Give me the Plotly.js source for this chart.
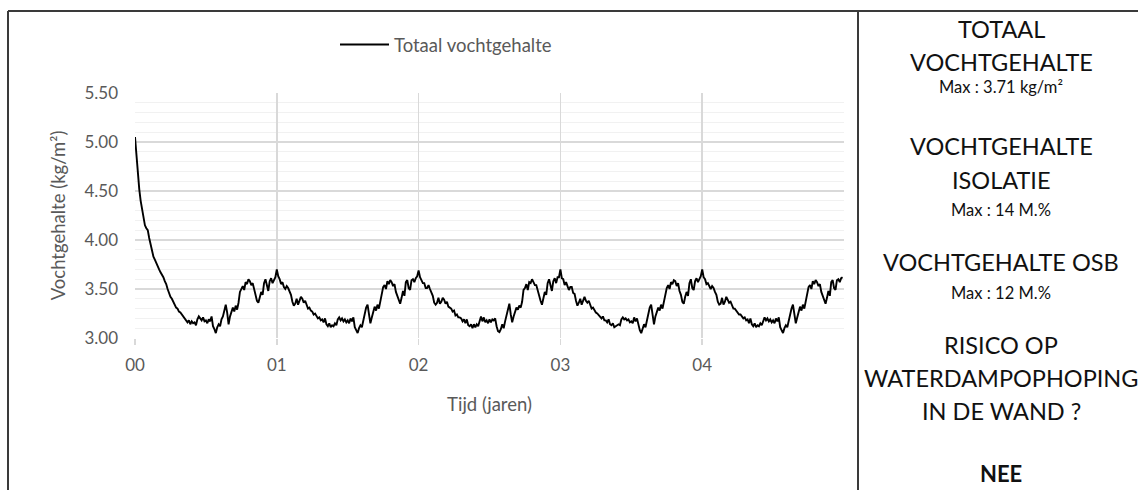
<!DOCTYPE html>
<html>
<head>
<meta charset="utf-8">
<script src="https://cdn.plot.ly/plotly-3.0.1.min.js"></script>
<style>html,body{margin:0;padding:0;background:#fff;}#chart{width:1138px;height:490px;}</style>
</head>
<body>
<div id="chart"></div>
<script>
// ---- DATA ----
const seriesName = 'Totaal vochtgehalte';
const timeStepYears = 0.01;   // sampling interval of the series (years)
const moisture = [ // kg/m², one value per 0.01 year
5.05,4.85,4.66,4.52,4.40,4.30,4.24,4.15,4.12,4.10,
4.02,3.95,3.88,3.83,3.80,3.76,3.72,3.70,3.67,3.65,
3.62,3.58,3.55,3.50,3.45,3.42,3.40,3.37,3.33,3.31,
3.30,3.27,3.26,3.24,3.22,3.20,3.18,3.16,3.18,3.14,
3.17,3.15,3.16,3.13,3.19,3.22,3.20,3.18,3.21,3.17,
3.18,3.15,3.19,3.17,3.22,3.12,3.09,3.05,3.11,3.14,
3.12,3.19,3.22,3.30,3.34,3.26,3.14,3.22,3.28,3.31,
3.27,3.33,3.29,3.36,3.47,3.50,3.53,3.49,3.57,3.55,
3.60,3.58,3.54,3.56,3.49,3.44,3.38,3.36,3.42,3.47,
3.44,3.56,3.60,3.52,3.48,3.58,3.61,3.56,3.60,3.62,
3.70,3.63,3.60,3.55,3.57,3.52,3.50,3.53,3.51,3.48,
3.44,3.37,3.33,3.35,3.40,3.34,3.38,3.42,3.40,3.36,
3.38,3.33,3.30,3.31,3.28,3.27,3.24,3.25,3.22,3.20,
3.21,3.18,3.19,3.16,3.20,3.14,3.12,3.15,3.11,3.13,
3.12,3.15,3.13,3.19,3.21,3.18,3.20,3.17,3.19,3.16,
3.18,3.15,3.20,3.17,3.21,3.11,3.08,3.05,3.10,3.13,
3.11,3.18,3.23,3.31,3.34,3.25,3.15,3.21,3.27,3.32,
3.28,3.34,3.30,3.38,3.48,3.52,3.54,3.50,3.58,3.55,
3.59,3.57,3.53,3.55,3.47,3.43,3.37,3.35,3.41,3.48,
3.43,3.57,3.59,3.51,3.49,3.59,3.60,3.57,3.61,3.63,
3.69,3.62,3.59,3.56,3.56,3.51,3.51,3.54,3.50,3.47,
3.43,3.36,3.34,3.36,3.41,3.35,3.37,3.41,3.39,3.35,
3.37,3.32,3.31,3.30,3.27,3.28,3.23,3.24,3.21,3.21,
3.20,3.17,3.19,3.15,3.19,3.13,3.12,3.14,3.10,3.14,
3.11,3.14,3.12,3.18,3.22,3.17,3.21,3.16,3.18,3.15,
3.19,3.16,3.19,3.18,3.20,3.12,3.07,3.06,3.09,3.14,
3.10,3.17,3.24,3.30,3.35,3.24,3.16,3.22,3.26,3.31,
3.29,3.33,3.31,3.37,3.49,3.51,3.55,3.49,3.57,3.56,
3.60,3.56,3.54,3.54,3.48,3.42,3.38,3.34,3.42,3.47,
3.44,3.56,3.60,3.52,3.48,3.58,3.61,3.56,3.62,3.62,
3.70,3.61,3.60,3.54,3.57,3.53,3.49,3.52,3.52,3.46,
3.45,3.38,3.33,3.36,3.40,3.34,3.38,3.42,3.38,3.36,
3.38,3.33,3.30,3.31,3.28,3.26,3.25,3.23,3.22,3.20,
3.22,3.18,3.18,3.16,3.19,3.14,3.13,3.15,3.11,3.12,
3.13,3.14,3.13,3.19,3.21,3.19,3.20,3.18,3.19,3.16,
3.17,3.15,3.21,3.17,3.20,3.12,3.08,3.05,3.10,3.14,
3.11,3.18,3.22,3.31,3.34,3.26,3.14,3.22,3.27,3.31,
3.28,3.34,3.30,3.37,3.47,3.51,3.54,3.50,3.57,3.55,
3.59,3.58,3.53,3.56,3.48,3.44,3.37,3.35,3.42,3.47,
3.43,3.56,3.60,3.51,3.49,3.58,3.61,3.57,3.60,3.63,
3.70,3.62,3.60,3.55,3.56,3.52,3.50,3.53,3.51,3.47,
3.44,3.37,3.34,3.35,3.41,3.34,3.37,3.42,3.39,3.36,
3.37,3.33,3.30,3.30,3.28,3.27,3.24,3.24,3.22,3.20,
3.21,3.18,3.19,3.15,3.20,3.14,3.12,3.15,3.11,3.13,
3.12,3.15,3.13,3.18,3.21,3.18,3.20,3.17,3.19,3.16,
3.18,3.15,3.20,3.17,3.21,3.11,3.08,3.05,3.10,3.13,
3.11,3.18,3.23,3.30,3.34,3.25,3.15,3.21,3.27,3.32,
3.28,3.34,3.30,3.38,3.48,3.52,3.54,3.50,3.58,3.55,
3.59,3.57,3.53,3.55,3.47,3.43,3.37,3.35,3.41,3.48,
3.43,3.57,3.59,3.51,3.49,3.59,3.60,3.57,3.61,3.62
];
const xTickVals = [0, 1, 2, 3, 4];
const xTickText = ['00', '01', '02', '03', '04'];
const yTickVals = [3.0, 3.5, 4.0, 4.5, 5.0, 5.5];
const xTitle = 'Tijd (jaren)';
const yTitle = 'Vochtgehalte (kg/m²)';
const panelLines = [
  {text: 'TOTAAL', big: true},
  {text: 'VOCHTGEHALTE', big: true},
  {text: 'Max : 3.71 kg/m²', big: false},
  {text: 'VOCHTGEHALTE', big: true},
  {text: 'ISOLATIE', big: true},
  {text: 'Max : 14 M.%', big: false},
  {text: 'VOCHTGEHALTE OSB', big: true},
  {text: 'Max : 12 M.%', big: false},
  {text: 'RISICO OP', big: true},
  {text: 'WATERDAMPOPHOPING', big: true},
  {text: 'IN DE WAND ?', big: true},
  {text: 'NEE', big: true, bold: true}
];
const panelLineY = [29, 62, 87, 146, 180, 210, 262, 293, 345, 378, 411, 489]; // px layout

// ---- LAYOUT GEOMETRY ----
const W = 1138, H = 490;
const L = 135, R = 844, T = 93, B = 338;
const px2x = p => (p - L) / (R - L);
const py2y = p => (B - p) / (B - T);

const times = moisture.map((_, i) => +(i * timeStepYears).toFixed(2));

const FONT = 'Lato, "Open Sans", sans-serif';
const GRAY = '#595959';

const trace = {
  type: 'scatter', mode: 'lines', name: seriesName,
  x: times, y: moisture,
  line: {color: '#000000', width: 1.9},
  hoverinfo: 'x+y'
};

const borderColor = '#3a3a3a';
const shapes = [
  {type: 'line', xref: 'paper', yref: 'paper', x0: px2x(8), x1: px2x(1138), y0: py2y(11), y1: py2y(11), line: {color: borderColor, width: 2}},
  {type: 'line', xref: 'paper', yref: 'paper', x0: px2x(8), x1: px2x(8), y0: py2y(11), y1: py2y(492), line: {color: borderColor, width: 2}},
  {type: 'line', xref: 'paper', yref: 'paper', x0: px2x(858), x1: px2x(858), y0: py2y(11), y1: py2y(492), line: {color: borderColor, width: 2}}
];

const annotations = panelLines.map((ln, i) => ({
  xref: 'paper', yref: 'paper', x: px2x(1001), y: py2y(panelLineY[i]),
  xanchor: 'center', yanchor: ln.bold ? 'bottom' : 'middle', showarrow: false,
  text: ln.bold ? '<b>' + ln.text + '</b>' : ln.text,
  font: {family: FONT, size: ln.bold ? 22 : (ln.big ? 23.5 : 16.5), color: '#111111'}
}));

const layout = {
  width: W, height: H,
  margin: {l: L, r: W - R, t: T, b: H - B, pad: 0},
  paper_bgcolor: '#ffffff', plot_bgcolor: '#ffffff',
  font: {family: FONT, color: GRAY},
  showlegend: true,
  legend: {
    orientation: 'h', x: px2x(335), y: py2y(45), xanchor: 'left', yanchor: 'middle',
    font: {family: FONT, size: 18.5, color: GRAY}, itemwidth: 49, bgcolor: 'rgba(0,0,0,0)'
  },
  xaxis: {
    range: [0, 5], tickmode: 'array', tickvals: xTickVals, ticktext: xTickText,
    showgrid: true, gridcolor: '#d9d9d9', gridwidth: 1.5,
    zeroline: false, showline: false,
    ticks: 'outside', ticklen: 6, tickcolor: '#d9d9d9', tickwidth: 1.5,
    ticklabelstandoff: 6,
    tickfont: {family: FONT, size: 17, color: GRAY},
    title: {text: xTitle, font: {family: FONT, size: 18.5, color: GRAY}, standoff: 23},
    automargin: false, fixedrange: true
  },
  yaxis: {
    range: [3, 5.5], tickmode: 'array', tickvals: yTickVals, tickformat: '.2f',
    showgrid: true, gridcolor: '#d9d9d9', gridwidth: 1.5,
    minor: {dtick: 0.1, showgrid: true, gridcolor: '#f1f1f1', gridwidth: 1},
    zeroline: false, showline: false, ticks: '',
    ticklabelstandoff: 16,
    tickfont: {family: FONT, size: 17, color: GRAY},
    title: {text: yTitle, font: {family: FONT, size: 18.5, color: GRAY}, standoff: 13},
    automargin: false, fixedrange: true
  },
  shapes: shapes,
  annotations: annotations
};

Plotly.newPlot('chart', [trace], layout, {displayModeBar: false, staticPlot: true});
</script>
</body>
</html>
